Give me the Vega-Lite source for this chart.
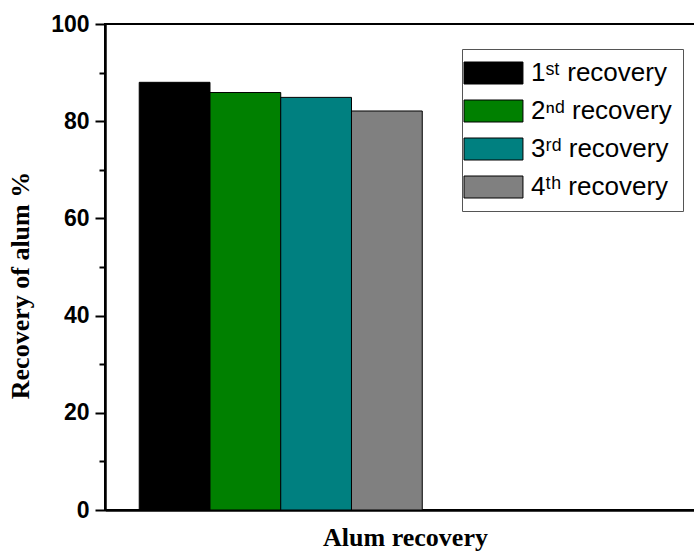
{
  "$schema": "https://vega.github.io/schema/vega-lite/v6.json",
  "autosize": "none",
  "padding": {"left": 105, "top": 24, "right": 0, "bottom": 43},
  "width": 600,
  "height": 486,
  "background": "white",
  "data": {
    "values": [
      {"group": "Alum recovery", "recovery": "1ˢᵗ recovery", "value": 88},
      {"group": "Alum recovery", "recovery": "2ⁿᵈ recovery", "value": 85.9},
      {"group": "Alum recovery", "recovery": "3ʳᵈ recovery", "value": 84.9},
      {"group": "Alum recovery", "recovery": "4ᵗʰ recovery", "value": 82.1}
    ]
  },
  "mark": {"type": "bar", "stroke": "black", "strokeWidth": 1, "opacity": 1},
  "encoding": {
    "x": {
      "field": "group",
      "type": "nominal",
      "scale": {"paddingInner": 0, "paddingOuter": 0.56, "align": 0.108},
      "axis": {
        "labels": false,
        "ticks": false,
        "title": "Alum recovery",
        "titleFont": "Liberation Serif",
        "titleFontSize": 26,
        "titleFontWeight": "bold",
        "titleColor": "black",
        "titlePadding": 14,
        "domainColor": "black",
        "domainWidth": 2.5
      }
    },
    "xOffset": {
      "field": "recovery",
      "type": "nominal",
      "scale": {"paddingInner": 0, "paddingOuter": 0}
    },
    "y": {
      "field": "value",
      "type": "quantitative",
      "scale": {"domain": [0, 100], "nice": false},
      "axis": {
        "values": [0, 10, 20, 30, 40, 50, 60, 70, 80, 90, 100],
        "labelExpr": "datum.value % 20 === 0 ? datum.label : ''",
        "tickSize": {"condition": {"test": "datum.value % 20 === 0", "value": 10}, "value": 6},
        "tickWidth": 2,
        "tickColor": "black",
        "grid": false,
        "domainColor": "black",
        "domainWidth": 2.5,
        "labelFont": "Liberation Sans",
        "labelFontSize": 23,
        "labelFontWeight": "bold",
        "labelColor": "black",
        "labelPadding": 6,
        "title": "Recovery of alum %",
        "titleFont": "Liberation Serif",
        "titleFontSize": 26,
        "titleFontWeight": "bold",
        "titleColor": "black",
        "titlePadding": 17,
        "titleY": 261
      }
    },
    "color": {
      "field": "recovery",
      "type": "nominal",
      "scale": {
        "domain": ["1ˢᵗ recovery", "2ⁿᵈ recovery", "3ʳᵈ recovery", "4ᵗʰ recovery"],
        "range": ["#000000", "#008000", "#008080", "#808080"]
      },
      "legend": {
        "orient": "none",
        "legendX": 357,
        "legendY": 25,
        "title": null,
        "fillColor": "white",
        "strokeColor": "#555555",
        "padding": 11,
        "symbolType": "M-2,-1H3.36V1H-2Z",
        "symbolSize": 484,
        "symbolStrokeColor": "black",
        "symbolStrokeWidth": 1,
        "symbolOpacity": 1,
        "labelFont": "Liberation Sans",
        "labelFontSize": 26,
        "labelColor": "black",
        "labelOffset": 32,
        "rowPadding": 12
      }
    }
  },
  "config": {
    "view": {"stroke": "black", "strokeWidth": 2}
  }
}
